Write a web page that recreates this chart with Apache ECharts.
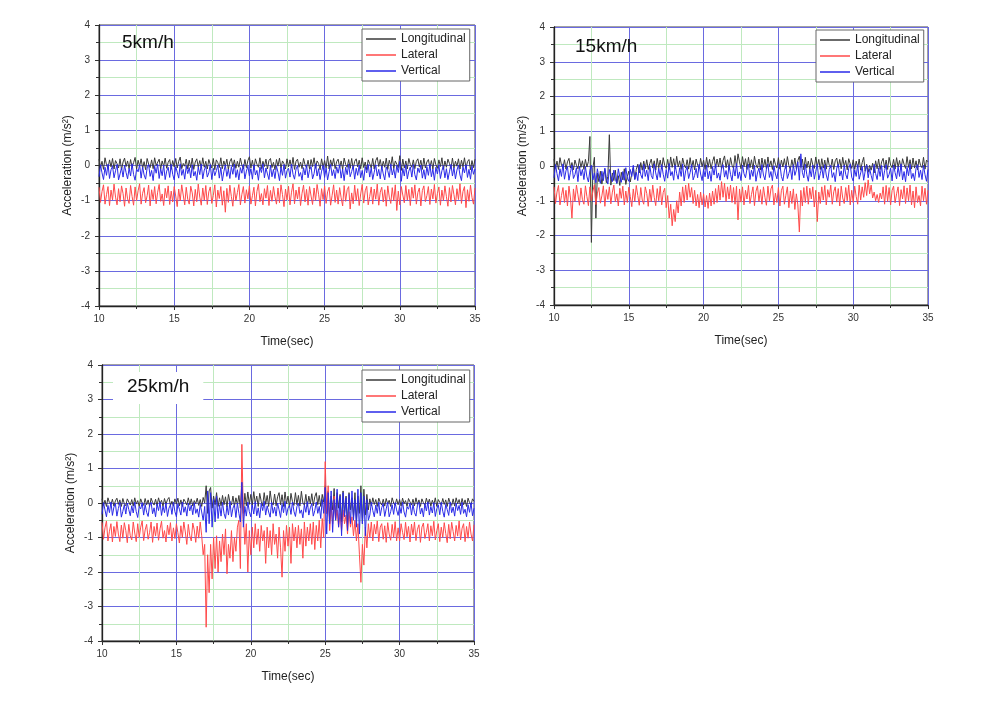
<!DOCTYPE html>
<html><head><meta charset="utf-8">
<script src="https://cdn.jsdelivr.net/npm/echarts@6/dist/echarts.min.js"></script>
<style>html,body{margin:0;padding:0;background:#fff}#c{width:996px;height:702px}</style>
</head><body><div id="c"></div>
<script>
const time = [
10,10.1,10.2,10.3,10.4,10.5,10.6,10.7,10.8,10.9,
11,11.1,11.2,11.3,11.4,11.5,11.6,11.7,11.8,11.9,
12,12.1,12.2,12.3,12.4,12.5,12.6,12.7,12.8,12.9,
13,13.1,13.2,13.3,13.4,13.5,13.6,13.7,13.8,13.9,
14,14.1,14.2,14.3,14.4,14.5,14.6,14.7,14.8,14.9,
15,15.1,15.2,15.3,15.4,15.5,15.6,15.7,15.8,15.9,
16,16.1,16.2,16.3,16.4,16.5,16.6,16.7,16.8,16.9,
17,17.1,17.2,17.3,17.4,17.5,17.6,17.7,17.8,17.9,
18,18.1,18.2,18.3,18.4,18.5,18.6,18.7,18.8,18.9,
19,19.1,19.2,19.3,19.4,19.5,19.6,19.7,19.8,19.9,
20,20.1,20.2,20.3,20.4,20.5,20.6,20.7,20.8,20.9,
21,21.1,21.2,21.3,21.4,21.5,21.6,21.7,21.8,21.9,
22,22.1,22.2,22.3,22.4,22.5,22.6,22.7,22.8,22.9,
23,23.1,23.2,23.3,23.4,23.5,23.6,23.7,23.8,23.9,
24,24.1,24.2,24.3,24.4,24.5,24.6,24.7,24.8,24.9,
25,25.1,25.2,25.3,25.4,25.5,25.6,25.7,25.8,25.9,
26,26.1,26.2,26.3,26.4,26.5,26.6,26.7,26.8,26.9,
27,27.1,27.2,27.3,27.4,27.5,27.6,27.7,27.8,27.9,
28,28.1,28.2,28.3,28.4,28.5,28.6,28.7,28.8,28.9,
29,29.1,29.2,29.3,29.4,29.5,29.6,29.7,29.8,29.9,
30,30.1,30.2,30.3,30.4,30.5,30.6,30.7,30.8,30.9,
31,31.1,31.2,31.3,31.4,31.5,31.6,31.7,31.8,31.9,
32,32.1,32.2,32.3,32.4,32.5,32.6,32.7,32.8,32.9,
33,33.1,33.2,33.3,33.4,33.5,33.6,33.7,33.8,33.9,
34,34.1,34.2,34.3,34.4,34.5,34.6,34.7,34.8,34.9,
35];

const seriesNames = ['Longitudinal','Lateral','Vertical'];
const panelTitles = ['5km/h','15km/h','25km/h'];

// ---------- 5 km/h ----------
const lon5 = [
0.18,-0.06,0.12,-0.11,0.22,0.02,-0.08,0.16,-0.04,0.2,
-0.1,0.14,0.05,-0.07,0.19,-0.12,0.1,0.21,-0.03,0.13,
-0.09,0.17,-0.05,0.08,0.23,-0.1,0.15,-0.02,0.19,-0.08,
0.11,-0.12,0.2,0.04,-0.06,0.16,-0.09,0.22,0.0,-0.05,
0.18,-0.1,0.13,-0.03,0.21,-0.08,0.09,0.17,-0.11,0.14,
-0.04,0.2,-0.07,0.12,0.24,-0.09,0.06,-0.02,0.18,-0.1,
0.15,-0.06,0.21,-0.11,0.1,0.19,-0.04,0.14,-0.08,0.22,
-0.05,0.12,-0.1,0.17,0.03,-0.07,0.2,-0.12,0.16,0.08,
-0.06,0.22,-0.09,0.13,-0.02,0.18,-0.11,0.11,0.2,-0.04,
0.16,-0.08,0.12,-0.05,0.21,0.01,-0.1,0.17,-0.06,0.14,
0.25,-0.07,0.15,-0.11,0.19,0.04,-0.05,0.22,-0.09,0.12,
-0.03,0.18,-0.1,0.14,0.2,-0.06,0.09,-0.12,0.17,-0.02,
0.21,-0.08,0.13,0.05,-0.1,0.19,-0.04,0.16,-0.07,0.23,
-0.11,0.12,0.18,-0.05,0.1,-0.09,0.2,0.02,-0.06,0.15,
-0.1,0.17,-0.03,0.22,-0.08,0.13,0.06,-0.12,0.19,-0.05,
0.14,-0.07,0.27,-0.1,0.16,-0.02,0.2,-0.09,0.11,0.18,
-0.06,0.13,-0.11,0.21,0.03,-0.05,0.17,-0.08,0.2,-0.1,
0.12,0.19,-0.04,0.15,-0.09,0.22,-0.06,0.1,-0.12,0.16,
0.05,-0.07,0.2,-0.1,0.14,0.23,-0.03,0.17,-0.08,0.12,
-0.05,0.21,-0.11,0.15,-0.02,0.25,-0.09,0.13,0.04,-0.06,
0.28,-0.14,0.18,-0.07,0.13,-0.1,0.2,0.03,-0.05,0.16,
-0.09,0.12,0.19,-0.04,0.15,-0.11,0.21,-0.07,0.1,0.17,
-0.06,0.14,-0.1,0.2,0.02,-0.08,0.16,-0.03,0.22,-0.11,
0.13,-0.05,0.18,0.06,-0.09,0.21,-0.07,0.12,-0.02,0.19,
-0.1,0.15,-0.04,0.22,-0.08,0.11,0.17,-0.12,0.14,-0.06,
0.18];
const lat5 = [
-0.62,-1.05,-0.74,-0.55,-1.1,-0.83,-0.6,-1.14,-0.7,-0.98,
-0.53,-0.9,-1.12,-0.66,-1.03,-0.58,-0.8,-1.16,-0.64,-0.95,
-1.08,-0.57,-0.88,-1.13,-0.61,-1.0,-0.72,-0.52,-1.1,-0.79,
-0.63,-1.06,-0.86,-0.56,-1.15,-0.69,-0.97,-0.6,-1.09,-0.76,
-0.54,-1.02,-0.81,-1.14,-0.65,-0.92,-0.58,-1.11,-0.73,-1.04,
-0.6,-0.87,-1.17,-0.67,-1.01,-0.55,-0.84,-1.12,-0.62,-0.96,
-1.1,-0.59,-0.78,-1.15,-0.68,-1.03,-0.53,-0.9,-1.13,-0.64,
-0.99,-0.57,-1.11,-0.75,-0.61,-1.08,-0.85,-0.55,-1.18,-0.7,
-0.94,-0.6,-1.13,-0.72,-1.33,-0.65,-1.05,-0.56,-0.88,-1.16,
-0.63,-1.0,-0.77,-0.54,-1.12,-0.82,-0.6,-1.07,-0.69,-0.95,
-0.58,-1.1,-0.86,-0.62,-1.15,-0.74,-0.53,-1.03,-0.8,-1.12,
-0.66,-0.93,-0.57,-1.14,-0.71,-1.02,-0.6,-0.89,-1.1,-0.64,
-1.06,-0.55,-0.83,-1.17,-0.67,-0.98,-0.59,-1.12,-0.76,-0.52,
-1.09,-0.7,-0.95,-0.61,-1.14,-0.79,-0.56,-1.04,-0.68,-1.13,
-0.6,-0.87,-1.11,-0.64,-1.0,-0.54,-0.82,-1.16,-0.66,-0.97,
-0.58,-1.08,-0.75,-0.62,-1.13,-0.85,-0.55,-1.05,-0.7,-1.1,
-0.63,-0.92,-1.15,-0.57,-1.02,-0.69,-0.6,-1.24,-0.78,-1.09,
-0.56,-1.0,-0.66,-1.14,-0.81,-0.54,-1.07,-0.72,-0.59,-1.12,
-0.88,-0.61,-1.1,-0.67,-0.96,-0.53,-1.13,-0.76,-0.62,-1.04,
-0.69,-1.16,-0.58,-0.9,-1.08,-0.63,-1.01,-0.55,-1.28,-0.73,
-1.12,-0.6,-0.84,-1.06,-0.57,-0.99,-0.68,-1.14,-0.62,-0.93,
-0.55,-1.1,-0.77,-0.64,-1.15,-0.71,-0.58,-1.03,-0.86,-0.6,
-1.11,-0.67,-0.95,-0.54,-1.07,-0.8,-0.61,-1.13,-0.7,-1.0,
-0.58,-0.89,-1.16,-0.63,-1.04,-0.57,-0.83,-1.12,-0.66,-0.97,
-0.52,-1.08,-0.74,-0.6,-1.2,-0.69,-1.02,-0.56,-0.91,-1.1,
-0.64];
const ver5 = [
-0.32,0.02,-0.21,-0.4,-0.05,-0.28,0.04,-0.37,-0.12,-0.02,
-0.35,-0.15,0.03,-0.41,-0.24,-0.06,-0.33,0.01,-0.2,-0.38,
-0.08,-0.3,0.05,-0.26,-0.42,-0.1,-0.18,0.02,-0.36,-0.04,
-0.27,-0.39,-0.07,0.03,-0.31,-0.14,-0.43,-0.02,-0.22,0.04,
-0.37,-0.09,-0.29,0.01,-0.4,-0.16,-0.05,-0.34,0.03,-0.25,
-0.41,-0.03,-0.19,-0.36,0.05,-0.28,-0.11,-0.39,-0.01,-0.23,
-0.06,-0.35,0.02,-0.3,-0.17,-0.42,-0.04,-0.26,0.04,-0.38,
-0.13,-0.02,-0.33,-0.21,0.03,-0.4,-0.08,-0.29,-0.15,0.01,
-0.36,-0.05,-0.44,-0.18,0.02,-0.31,-0.1,-0.37,-0.03,-0.25,
0.04,-0.34,-0.12,-0.41,-0.06,-0.22,0.03,-0.38,-0.16,-0.02,
-0.3,-0.09,-0.39,0.02,-0.27,-0.14,-0.42,-0.04,-0.2,0.05,
-0.35,-0.07,-0.24,-0.4,0.01,-0.32,-0.11,-0.37,-0.02,-0.19,
-0.43,-0.05,-0.28,0.03,-0.36,-0.15,-0.08,-0.33,0.04,-0.25,
-0.39,-0.1,-0.01,-0.31,-0.2,-0.42,-0.06,-0.27,0.02,-0.35,
-0.13,-0.03,-0.38,-0.23,0.05,-0.3,-0.09,-0.4,-0.16,0.0,
-0.34,-0.07,-0.41,-0.18,0.03,-0.29,-0.12,-0.37,-0.04,-0.22,
0.02,-0.36,-0.1,-0.43,-0.05,-0.26,0.04,-0.32,-0.17,-0.01,
-0.39,-0.08,-0.28,0.01,-0.35,-0.14,-0.42,-0.03,-0.21,0.03,
-0.33,-0.06,-0.4,-0.19,0.02,-0.3,-0.11,-0.38,-0.02,-0.24,
-0.41,-0.04,-0.15,-0.34,0.04,-0.27,-0.09,-0.36,0.0,-0.2,
0.12,-0.45,-0.08,-0.3,0.02,-0.38,-0.16,-0.04,-0.33,0.03,
-0.26,-0.41,-0.07,-0.2,0.01,-0.36,-0.12,-0.39,-0.03,-0.28,
0.04,-0.32,-0.1,-0.42,-0.05,-0.24,0.02,-0.37,-0.15,-0.01,
-0.35,-0.09,-0.4,-0.18,0.03,-0.3,-0.06,-0.38,-0.13,0.01,
-0.27,-0.43,-0.04,-0.21,0.02,-0.34,-0.11,-0.39,-0.02,-0.25,
-0.1];

// ---------- 15 km/h ----------
const lon15 = [
0.2,-0.07,0.14,-0.1,0.24,0.03,-0.05,0.18,-0.09,0.12,
0.22,-0.06,0.1,-0.11,0.17,0.02,-0.08,0.21,-0.04,0.15,
-0.1,0.19,-0.03,0.13,0.85,-2.2,-0.05,0.25,-1.5,-0.2,
-0.45,-0.15,-0.52,-0.25,-0.1,-0.48,-0.3,0.9,-0.55,-0.2,
-0.42,-0.12,-0.5,-0.28,-0.56,-0.18,-0.4,-0.08,-0.53,-0.3,
-0.15,-0.46,-0.22,-0.05,-0.38,-0.1,0.05,-0.2,0.1,-0.12,
0.14,-0.08,0.18,-0.1,0.07,0.2,-0.06,0.15,-0.12,0.22,
-0.05,0.17,-0.09,0.24,0.02,-0.07,0.19,-0.1,0.26,-0.04,
0.21,-0.08,0.28,-0.03,0.15,-0.1,0.23,0.04,-0.06,0.18,
-0.09,0.24,-0.05,0.16,-0.11,0.2,0.03,-0.07,0.22,-0.02,
0.17,-0.1,0.25,-0.04,0.19,-0.08,0.13,0.27,-0.06,0.2,
-0.03,0.23,-0.09,0.16,0.29,-0.05,0.18,-0.1,0.24,0.02,
-0.07,0.3,-0.04,0.35,0.12,-0.08,0.27,-0.02,0.21,-0.1,
0.25,-0.05,0.18,-0.09,0.28,0.04,-0.06,0.2,-0.11,0.23,
-0.04,0.19,-0.08,0.26,-0.02,0.15,-0.1,0.22,0.05,-0.06,
0.24,-0.09,0.17,-0.03,0.21,-0.07,0.27,0.01,-0.1,0.18,
-0.05,0.23,-0.08,0.16,0.28,-0.04,0.2,-0.11,0.25,-0.06,
0.14,-0.09,0.22,0.03,-0.07,0.26,-0.03,0.19,-0.1,0.21,
-0.06,0.17,-0.09,0.24,0.02,-0.05,0.2,-0.1,0.15,0.23,
-0.04,0.19,-0.08,0.25,-0.02,0.16,-0.11,0.21,0.06,-0.07,
0.18,-0.1,0.14,-0.05,0.2,-0.12,0.1,0.25,-0.15,0.05,
-0.18,0.02,-0.12,0.08,-0.2,0.15,-0.08,0.2,-0.1,0.12,
0.22,-0.06,0.17,-0.1,0.25,0.03,-0.05,0.19,-0.09,0.24,
-0.03,0.16,-0.1,0.21,0.05,-0.07,0.27,-0.04,0.18,-0.08,
0.23,-0.06,0.15,-0.11,0.2,0.02,-0.05,0.25,-0.09,0.17,
0.12];
const lat15 = [
-0.6,-1.08,-0.75,-0.56,-1.12,-0.85,-0.62,-1.05,-0.7,-1.15,
-0.58,-0.92,-1.5,-0.66,-1.02,-0.55,-0.83,-1.13,-0.63,-0.97,
-1.1,-0.57,-0.88,-1.14,-0.6,-1.0,-0.72,-0.54,-1.11,-0.78,
-0.62,-1.07,-0.86,-0.57,-1.16,-0.68,-0.96,-0.6,-1.09,-0.75,
-0.55,-1.03,-0.8,-1.15,-0.64,-0.93,-0.58,-1.12,-0.72,-1.05,
-0.61,-0.88,-1.17,-0.66,-1.02,-0.56,-0.85,-1.13,-0.62,-0.98,
-1.1,-0.6,-0.79,-1.16,-0.67,-1.03,-0.55,-0.9,-1.14,-0.65,
-1.0,-0.58,-1.12,-0.76,-0.64,-1.2,-0.85,-1.5,-1.1,-1.72,
-1.25,-1.6,-1.0,-1.35,-0.75,-1.15,-0.6,-1.05,-0.55,-0.98,
-0.5,-0.9,-0.62,-1.08,-0.7,-1.15,-0.82,-1.2,-0.75,-1.12,
-0.8,-1.18,-0.85,-1.22,-0.78,-1.15,-0.72,-1.1,-0.65,-1.05,
-0.55,-0.98,-0.45,-0.9,-0.5,-1.02,-0.6,-0.95,-0.55,-1.05,
-0.62,-1.1,-0.58,-1.55,-0.66,-1.04,-0.6,-1.12,-0.7,-0.95,
-0.56,-1.08,-0.82,-0.6,-1.14,-0.73,-0.57,-1.02,-0.68,-1.1,
-0.6,-0.9,-1.13,-0.58,-1.0,-0.66,-0.55,-1.12,-0.78,-1.05,
-0.62,-1.15,-0.7,-0.58,-1.1,-0.84,-0.6,-1.2,-0.72,-1.08,
-0.66,-1.25,-0.8,-1.12,-1.9,-0.7,-1.15,-0.62,-1.05,-0.58,
-1.1,-0.64,-0.95,-0.6,-1.18,-0.7,-1.6,-0.75,-1.08,-0.6,
-0.98,-0.56,-1.12,-0.68,-0.9,-0.55,-1.1,-0.74,-0.6,-1.04,
-0.65,-1.15,-0.58,-0.92,-1.08,-0.62,-1.0,-0.55,-1.12,-0.7,
-1.05,-0.58,-0.88,-1.1,-0.55,-0.98,-0.6,-0.9,-0.48,-0.85,
-0.4,-0.8,-0.55,-0.92,-0.75,-1.0,-0.82,-1.05,-0.78,-0.95,
-0.6,-1.1,-0.56,-1.02,-0.62,-1.12,-0.7,-0.58,-1.06,-0.8,
-0.6,-1.14,-0.68,-0.95,-0.57,-1.08,-0.63,-1.0,-0.55,-1.12,
-0.72,-1.2,-0.6,-1.05,-0.85,-1.15,-0.58,-1.0,-0.64,-1.1,
-0.7];
const ver15 = [
-0.34,0.04,-0.22,-0.43,-0.08,-0.3,0.06,-0.38,-0.14,-0.02,
-0.41,-0.18,0.03,-0.36,-0.25,-0.05,-0.45,0.0,-0.28,-0.1,
-0.39,-0.02,-0.31,-0.46,-0.12,0.02,-0.4,-0.2,-0.48,-0.08,
-0.33,-0.5,-0.15,-0.42,-0.06,-0.36,-0.52,-0.1,-0.3,-0.45,
-0.12,-0.38,-0.5,-0.08,-0.32,-0.47,-0.16,-0.41,-0.05,-0.35,
-0.44,-0.1,-0.3,0.02,-0.39,-0.18,-0.42,0.04,-0.25,-0.36,
0.05,-0.3,-0.12,-0.42,0.02,-0.27,-0.37,0.06,-0.2,-0.4,
-0.06,-0.33,0.04,-0.24,-0.44,-0.1,-0.35,0.07,-0.28,-0.16,
-0.41,0.03,-0.22,-0.38,-0.05,-0.3,0.06,-0.43,-0.14,-0.02,
-0.36,-0.19,0.04,-0.4,-0.27,-0.07,-0.34,0.05,-0.23,-0.42,
-0.09,-0.31,0.03,-0.37,-0.15,-0.44,-0.03,-0.26,0.06,-0.35,
-0.2,-0.41,-0.06,0.04,-0.32,-0.13,-0.38,0.02,-0.24,-0.43,
-0.04,-0.29,0.07,-0.36,-0.17,-0.42,0.03,-0.22,-0.34,-0.08,
0.05,-0.39,-0.12,-0.3,0.02,-0.44,-0.2,-0.06,-0.35,0.04,
-0.26,-0.4,-0.09,0.06,-0.33,-0.16,-0.42,0.01,-0.23,-0.37,
-0.07,0.05,-0.3,-0.43,-0.14,0.03,-0.36,-0.21,-0.05,-0.39,
0.04,-0.27,-0.12,0.12,-0.41,0.35,-0.18,-0.34,0.05,-0.25,
-0.44,-0.08,-0.31,0.03,-0.38,-0.15,0.06,-0.4,-0.22,-0.03,
-0.35,0.04,-0.26,-0.42,-0.1,0.02,-0.33,-0.19,-0.45,-0.06,
0.05,-0.29,-0.14,-0.4,0.03,-0.24,-0.37,-0.07,0.06,-0.32,
-0.43,-0.11,-0.3,0.04,-0.38,-0.2,-0.02,-0.41,-0.15,0.03,
-0.34,-0.08,-0.27,-0.44,0.05,-0.22,-0.39,-0.05,-0.3,0.02,
-0.41,-0.13,0.04,-0.35,-0.24,-0.06,-0.43,0.03,-0.19,-0.37,
-0.02,-0.3,0.06,-0.4,-0.16,-0.45,-0.04,-0.28,0.05,-0.36,
-0.21,-0.42,-0.07,0.04,-0.33,-0.12,-0.39,0.02,-0.25,-0.44,
-0.1];

// ---------- 25 km/h ----------
const lon25 = [
0.12,-0.07,0.08,-0.1,0.15,0.01,-0.05,0.11,-0.09,0.06,
0.14,-0.04,0.09,-0.1,0.13,-0.02,-0.08,0.12,0.03,-0.06,
0.1,-0.09,0.15,-0.03,0.07,-0.1,0.12,0.0,-0.07,0.13,
-0.05,0.09,-0.1,0.14,0.02,-0.06,0.11,-0.08,0.15,-0.02,
0.08,-0.1,0.13,-0.04,0.1,0.16,-0.07,0.05,-0.09,0.12,
-0.03,0.14,-0.08,0.09,-0.1,0.11,0.04,-0.06,0.15,-0.05,
0.12,-0.09,0.07,-0.02,0.14,-0.07,0.1,-0.1,0.16,0.0,
0.5,-0.3,0.35,0.45,-0.15,0.2,-0.05,0.3,-0.1,0.15,
-0.08,0.22,-0.05,0.18,-0.12,0.25,0.02,-0.06,0.2,-0.1,
0.15,-0.05,0.22,-0.15,0.6,-0.3,0.28,-0.08,0.32,-0.04,
0.25,-0.06,0.33,-0.02,0.2,-0.1,0.28,0.05,-0.08,0.3,
-0.04,0.22,-0.1,0.35,0.02,-0.06,0.26,-0.08,0.18,0.3,
-0.05,0.24,-0.1,0.32,-0.02,0.2,-0.12,0.28,0.04,-0.07,
0.3,-0.05,0.22,-0.09,0.34,0.0,-0.06,0.25,-0.1,0.2,
-0.03,0.27,-0.08,0.18,0.3,-0.05,0.22,-0.1,0.25,0.02,
0.5,-0.3,0.35,-0.5,0.2,-0.2,0.42,-0.45,0.3,-0.15,
0.25,-0.55,0.35,-0.3,0.2,-0.6,0.3,-0.2,0.15,-0.4,
0.3,-0.5,0.2,-0.3,0.5,-0.6,0.4,-0.35,0.25,-0.2,
0.12,-0.08,0.15,-0.04,0.1,-0.1,0.14,0.02,-0.06,0.11,
-0.09,0.13,-0.03,0.08,-0.1,0.15,0.0,-0.07,0.12,-0.05,
0.1,-0.09,0.14,-0.02,0.07,-0.1,0.13,0.03,-0.06,0.11,
-0.08,0.15,-0.04,0.09,-0.1,0.12,0.01,-0.07,0.14,-0.03,
0.11,-0.09,0.08,-0.05,0.15,-0.1,0.1,0.02,-0.06,0.13,
-0.04,0.09,-0.1,0.14,0.0,-0.07,0.12,-0.09,0.15,-0.02,
0.1,-0.08,0.13,-0.05,0.09,-0.1,0.14,0.01,-0.06,0.12,
0.05];
const lat25 = [
-0.56,-1.05,-0.72,-0.52,-1.1,-0.82,-0.6,-1.13,-0.68,-0.97,
-0.54,-0.9,-1.12,-0.64,-1.02,-0.57,-0.8,-1.15,-0.62,-0.95,
-1.07,-0.55,-0.87,-1.12,-0.6,-1.0,-0.7,-0.52,-1.09,-0.78,
-0.62,-1.05,-0.85,-0.55,-1.14,-0.68,-0.96,-0.58,-1.08,-0.75,
-0.53,-1.02,-0.8,-1.13,-0.64,-0.92,-0.57,-1.1,-0.72,-1.03,
-0.6,-0.86,-1.16,-0.66,-1.0,-0.55,-0.84,-1.2,-0.62,-0.95,
-1.1,-0.58,-0.78,-1.14,-0.67,-1.02,-0.55,-0.95,-1.5,-1.2,
-3.6,-1.5,-2.6,-1.2,-2.2,-1.0,-1.9,-0.95,-2.0,-1.1,
-1.7,-0.9,-1.5,-0.75,-2.05,-1.2,-1.6,-0.8,-1.7,-1.0,
-1.4,-0.7,-0.5,-1.9,1.7,-0.4,-1.2,-0.6,-2.0,-0.8,
-1.5,-0.7,-1.3,-0.6,-1.2,-0.75,-1.4,-0.65,-1.1,-0.8,
-1.75,-0.7,-1.3,-0.8,-1.5,-0.6,-1.2,-0.9,-1.6,-0.7,
-1.3,-2.15,-0.8,-1.4,-0.65,-1.25,-0.7,-1.75,-0.6,-1.1,
-0.7,-1.3,-0.65,-1.2,-0.75,-1.6,-0.55,-1.25,-0.7,-1.1,
-0.6,-1.2,-0.55,-1.35,-0.65,-1.1,-0.5,-1.3,-0.45,-1.0,
1.2,-0.3,0.5,-0.8,-0.1,-0.6,0.2,-0.5,-0.2,-0.7,
-0.3,-0.8,-0.2,-0.6,-0.35,-0.9,-0.25,-0.7,-0.4,-0.95,
-0.5,-1.1,-0.6,-1.5,-2.3,-1.2,-1.8,-0.7,-1.3,-0.6,
-1.0,-0.55,-1.1,-0.62,-0.9,-0.52,-1.12,-0.7,-0.6,-1.05,
-0.66,-1.14,-0.57,-0.9,-1.08,-0.62,-1.0,-0.54,-1.1,-0.72,
-1.1,-0.6,-0.85,-1.06,-0.56,-0.98,-0.68,-1.13,-0.61,-0.93,
-0.55,-1.09,-0.76,-0.63,-1.14,-0.7,-0.58,-1.03,-0.85,-0.6,
-1.1,-0.66,-0.95,-0.53,-1.07,-0.8,-0.6,-1.12,-0.7,-1.0,
-0.57,-0.88,-1.15,-0.62,-1.04,-0.56,-0.83,-1.1,-0.65,-0.96,
-0.52,-1.07,-0.73,-0.6,-1.12,-0.68,-1.02,-0.55,-0.9,-1.1,
-0.63];
const ver25 = [
-0.33,0.01,-0.2,-0.4,-0.07,-0.28,0.03,-0.36,-0.12,-0.02,
-0.38,-0.16,0.02,-0.41,-0.24,-0.05,-0.32,0.0,-0.19,-0.37,
-0.08,-0.29,0.03,-0.25,-0.42,-0.1,-0.17,0.01,-0.35,-0.04,
-0.27,-0.39,-0.06,0.02,-0.31,-0.14,-0.4,-0.03,-0.22,0.03,
-0.36,-0.09,-0.28,0.0,-0.39,-0.15,-0.05,-0.33,0.02,-0.25,
-0.4,-0.03,-0.18,-0.35,0.03,-0.27,-0.11,-0.38,-0.01,-0.23,
-0.06,-0.34,0.01,-0.3,-0.17,-0.41,-0.04,-0.26,-0.5,-0.1,
-0.85,0.35,-0.6,0.3,-0.7,0.1,-0.55,0.2,-0.45,-0.05,
-0.38,0.02,-0.3,-0.45,-0.08,-0.35,0.05,-0.4,-0.15,-0.05,
-0.42,0.0,-0.3,-0.55,0.6,-0.7,-0.1,-0.38,0.03,-0.25,
-0.4,-0.06,-0.32,0.04,-0.37,-0.14,-0.43,-0.02,-0.22,0.05,
-0.35,-0.08,-0.26,-0.41,0.02,-0.3,-0.12,-0.38,0.0,-0.2,
-0.42,-0.04,-0.28,0.05,-0.36,-0.15,-0.07,-0.33,0.03,-0.24,
-0.39,-0.1,0.0,-0.3,-0.2,-0.43,-0.05,-0.27,0.04,-0.35,
-0.14,-0.02,-0.38,-0.22,0.03,-0.3,-0.1,-0.45,0.1,-0.3,
0.45,-0.9,0.3,-0.6,0.35,-0.85,0.1,-0.5,0.4,-0.7,
0.2,-0.95,0.3,-0.4,0.15,-0.8,0.25,-0.6,0.35,-0.5,
0.1,-0.7,0.4,-0.9,0.3,-0.6,0.2,-0.95,0.1,-0.5,
-0.35,0.02,-0.22,-0.4,-0.06,-0.3,0.03,-0.37,-0.13,-0.02,
-0.39,-0.17,0.02,-0.4,-0.25,-0.05,-0.33,0.01,-0.2,-0.36,
-0.09,-0.3,0.03,-0.26,-0.41,-0.11,-0.18,0.0,-0.35,-0.04,
-0.28,-0.38,-0.06,0.02,-0.32,-0.15,-0.4,-0.02,-0.23,0.03,
-0.35,-0.1,-0.29,0.01,-0.39,-0.16,-0.05,-0.34,0.02,-0.24,
-0.41,-0.04,-0.19,-0.36,0.03,-0.28,-0.12,-0.38,-0.01,-0.22,
-0.07,-0.33,0.02,-0.3,-0.18,-0.4,-0.05,-0.27,0.01,-0.37,
-0.15];

const panels = [[lon5, lat5, ver5], [lon15, lat15, ver15], [lon25, lat25, ver25]];
const colors = ['#3a3a3a', '#ff4a4a', '#2a2ae8'];
const FONT = 'Liberation Sans, Arial, sans-serif';

const grids = [
  {left: 99, top: 25, width: 376, height: 281},
  {left: 554, top: 27, width: 374, height: 278},
  {left: 102, top: 365, width: 372, height: 276}
];
const legendPos = [{left: 362, top: 29}, {left: 816, top: 30}, {left: 362, top: 370}];
const titlePos = [
  {left: 122, top: 33, bg: 'transparent', pad: 0},
  {left: 575, top: 37, bg: 'transparent', pad: 0},
  {left: 113, top: 372, bg: '#ffffff', pad: [5, 14, 8, 14]}
];

const axisCommon = {
  axisLine: {show: true, onZero: false, lineStyle: {color: '#222', width: 1.3}},
  axisTick: {show: true, inside: false, length: 4, lineStyle: {color: '#333'}},
  minorTick: {show: true, splitNumber: 2, length: 3, lineStyle: {color: '#333'}},
  axisLabel: {fontSize: 10, color: '#333', fontFamily: FONT},
  splitLine: {show: true, lineStyle: {color: '#6a6ae0', width: 1}},
  minorSplitLine: {show: true, lineStyle: {color: '#bfe9bf', width: 1}},
  nameLocation: 'middle',
  nameTextStyle: {fontSize: 12, color: '#222', fontFamily: FONT}
};

const xAxis = [], yAxis = [], series = [], legend = [], title = [];
grids.forEach((g, i) => {
  xAxis.push(Object.assign({}, axisCommon, {
    type: 'value', gridIndex: i, min: 10, max: 35, interval: 5,
    name: 'Time(sec)', nameGap: 30,
    axisLabel: Object.assign({}, axisCommon.axisLabel, {margin: 8})
  }));
  yAxis.push(Object.assign({}, axisCommon, {
    type: 'value', gridIndex: i, min: -4, max: 4, interval: 1,
    name: 'Acceleration (m/s\u00B2)', nameGap: 25,
    axisLabel: Object.assign({}, axisCommon.axisLabel, {margin: 9})
  }));
  panels[i].forEach((vals, k) => {
    series.push({
      type: 'line', name: seriesNames[k], xAxisIndex: i, yAxisIndex: i,
      data: time.map((t, j) => [t, vals[j]]),
      symbol: 'none', showSymbol: false, animation: false,
      lineStyle: {color: colors[k], width: 1}, itemStyle: {color: colors[k]},
      z: 2 + k
    });
  });
  legend.push({
    data: seriesNames, orient: 'vertical', left: legendPos[i].left, top: legendPos[i].top,
    icon: 'rect', itemWidth: 30, itemHeight: 1.5, itemGap: 4, padding: [4, 4, 4, 4],
    borderColor: '#666', borderWidth: 1, backgroundColor: '#fff',
    textStyle: {fontSize: 12, color: '#222', fontFamily: FONT, lineHeight: 12},
    selectedMode: false
  });
  title.push({
    text: panelTitles[i], left: titlePos[i].left, top: titlePos[i].top,
    padding: titlePos[i].pad, backgroundColor: titlePos[i].bg,
    textStyle: {fontSize: 19, fontWeight: 'normal', color: '#111', fontFamily: FONT}
  });
});

const chart = echarts.init(document.getElementById('c'), null, {renderer: 'canvas'});
chart.setOption({
  backgroundColor: '#fff',
  animation: false,
  title, legend,
  grid: grids.map(g => Object.assign({show: true, borderColor: '#444', borderWidth: 1, containLabel: false}, g)),
  xAxis, yAxis, series
});
</script>
</body></html>
